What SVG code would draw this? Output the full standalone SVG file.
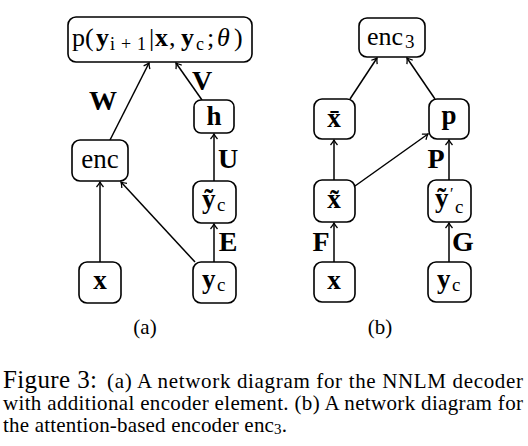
<svg xmlns="http://www.w3.org/2000/svg" width="528" height="446" viewBox="0 0 528 446">
<style>
.box{fill:#fff;stroke:#000;stroke-width:1.6}
.ln{stroke:#000;stroke-width:1.5;fill:none;marker-end:url(#ah)}
text{font-family:"Liberation Serif","Times New Roman",serif;fill:#000}
.lab{font-size:27px;text-anchor:middle}
.b{font-weight:bold}
.el{font-size:28px;font-weight:bold;text-anchor:middle}
.cap{font-size:21px}
</style>
<defs>
<marker id="ah" viewBox="-6 -5 8 10" markerWidth="8" markerHeight="10" refX="0" refY="0" orient="auto" markerUnits="userSpaceOnUse">
<path d="M-5,-3.5 Q-2,-1 0,0 Q-2,1 -5,3.5" fill="none" stroke="#000" stroke-width="1.3"/>
</marker>
</defs>
<rect width="528" height="446" fill="#fff"/>
<g id="connectors">
<line class="ln" x1="110" y1="140" x2="149" y2="63"/>
<line class="ln" x1="202" y1="100" x2="176" y2="63"/>
<line class="ln" x1="214" y1="181" x2="214" y2="134"/>
<line class="ln" x1="214" y1="262" x2="214" y2="224"/>
<line class="ln" x1="100" y1="262" x2="100" y2="182"/>
<line class="ln" x1="195" y1="262" x2="121" y2="182"/>
<line class="ln" x1="350" y1="99" x2="377" y2="58"/>
<line class="ln" x1="435" y1="99" x2="407" y2="58"/>
<line class="ln" x1="334" y1="180" x2="334" y2="140"/>
<line class="ln" x1="355" y1="186" x2="428" y2="134"/>
<line class="ln" x1="449" y1="180" x2="449" y2="140"/>
<line class="ln" x1="334" y1="262" x2="334" y2="223"/>
<line class="ln" x1="449" y1="262" x2="449" y2="223"/>
<text class="el" x="103" y="110">W</text>
<text class="el" x="202" y="90">V</text>
<text class="el" x="228" y="168">U</text>
<text class="el" x="228" y="251">E</text>
<text class="el" x="321" y="251">F</text>
<text class="el" x="436" y="168">P</text>
<text class="el" x="463" y="251">G</text>
</g>
<g id="node-p">
<rect class="box" x="68" y="17" width="184" height="45" rx="8"/>
<text font-size="26" y="46"><tspan x="72">p(</tspan><tspan class="b" x="96">y</tspan><tspan font-size="18" x="110" y="50" textLength="36">i+1</tspan><tspan x="149" y="46">|</tspan><tspan class="b" x="155">x</tspan><tspan x="169">,</tspan><tspan class="b" x="181">y</tspan><tspan font-size="18" x="196" y="50">c</tspan><tspan x="207" y="46">;</tspan><tspan font-style="italic" x="217">θ</tspan><tspan x="234">)</tspan></text>
</g>
<g id="node-h">
<rect class="box" x="194" y="100" width="40" height="33" rx="7"/>
<text class="lab b" x="214" y="125">h</text>
</g>
<g id="node-enc">
<rect class="box" x="72" y="140" width="56" height="41" rx="8"/>
<text class="lab" x="100" y="168">enc</text>
</g>
<g id="node-yt">
<rect class="box" x="193" y="181" width="43" height="42" rx="8"/>
<text font-size="27" y="208"><tspan class="b" x="202">ỹ</tspan><tspan font-size="19" x="217" y="211">c</tspan></text>
</g>
<g id="node-xa">
<rect class="box" x="79" y="262" width="42" height="41" rx="8"/>
<text class="lab b" x="100" y="289">x</text>
</g>
<g id="node-yca">
<rect class="box" x="193" y="262" width="43" height="41" rx="8"/>
<text font-size="27" y="288"><tspan class="b" x="202">y</tspan><tspan font-size="19" x="217" y="291">c</tspan></text>
</g>
<g id="node-enc3">
<rect class="box" x="359" y="18" width="66" height="39" rx="8"/>
<text font-size="26" y="45"><tspan x="367">enc</tspan><tspan font-size="19" x="405" y="48">3</tspan></text>
</g>
<g id="node-xbar">
<rect class="box" x="314" y="99" width="41" height="40" rx="8"/>
<text class="lab b" x="334" y="127">x̄</text>
</g>
<g id="node-pb">
<rect class="box" x="429" y="99" width="40" height="40" rx="8"/>
<text class="lab b" x="449" y="124">p</text>
</g>
<g id="node-xtil">
<rect class="box" x="314" y="180" width="41" height="42" rx="8"/>
<text class="lab b" x="334" y="208">x̃</text>
</g>
<g id="node-ytp">
<rect class="box" x="428" y="180" width="43" height="42" rx="8"/>
<text font-size="27" y="207"><tspan class="b" x="435">ỹ</tspan><tspan font-size="16" x="450" y="199">′</tspan><tspan font-size="19" x="455" y="213">c</tspan></text>
</g>
<g id="node-xb">
<rect class="box" x="314" y="262" width="41" height="40" rx="8"/>
<text class="lab b" x="334" y="289">x</text>
</g>
<g id="node-ycb">
<rect class="box" x="428" y="262" width="43" height="40" rx="8"/>
<text font-size="27" y="288"><tspan class="b" x="437">y</tspan><tspan font-size="19" x="452" y="291">c</tspan></text>
</g>
<text x="145" y="334" font-size="21" text-anchor="middle">(a)</text>
<text x="380" y="334" font-size="21" text-anchor="middle">(b)</text>
<text x="3" y="388" font-size="25" textLength="94">Figure 3:</text>
<text class="cap" x="107" y="388" textLength="416">(a) A network diagram for the NNLM decoder</text>
<text class="cap" x="3" y="410" textLength="520">with additional encoder element. (b) A network diagram for</text>
<text class="cap" x="3" y="432" textLength="284">the attention-based encoder enc<tspan font-size="15" dy="2">3</tspan><tspan dy="-2">.</tspan></text>
</svg>
